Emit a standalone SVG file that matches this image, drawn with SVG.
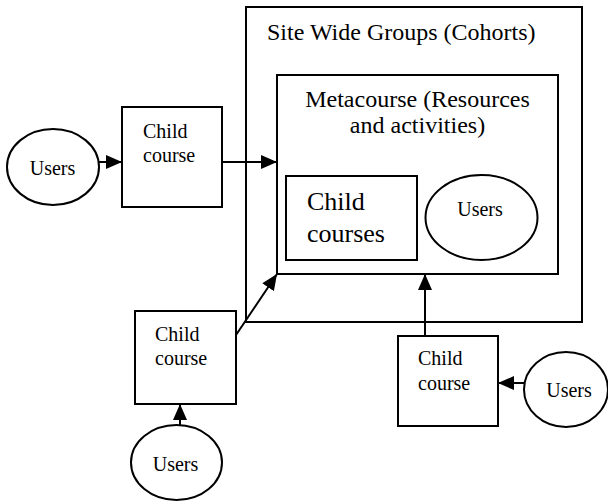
<svg xmlns="http://www.w3.org/2000/svg" width="608" height="501" viewBox="0 0 608 501">
  <style>
    .box { fill: #fff; stroke: #000; stroke-width: 2; }
    .frame { fill: none; stroke: #000; stroke-width: 2; }
    .edge { fill: none; stroke: #000; stroke-width: 2; marker-end: url(#arrow); }
    .t20 { font-size: 20px; }
    .t24 { font-size: 24px; }
    .t26 { font-size: 26px; }
  </style>
  <defs>
    <marker id="arrow" markerUnits="userSpaceOnUse" markerWidth="16" markerHeight="14" refX="16" refY="7" orient="auto">
      <path d="M0,0 L16,7 L0,14 Z" fill="#000"/>
    </marker>
  </defs>

  <g font-family="Times New Roman, Liberation Serif, Tinos, DejaVu Serif, Noto Serif, serif" fill="#000">
    <!-- containers -->
    <g id="site-wide-groups">
      <rect class="frame" x="246" y="7" width="336" height="315"/>
      <text class="t24" x="267" y="40">Site Wide Groups (Cohorts)</text>
    </g>
    <g id="metacourse">
      <rect class="frame" x="277" y="75" width="281" height="199"/>
      <text class="t24" x="417.5" y="107" text-anchor="middle">Metacourse (Resources</text>
      <text class="t24" x="417.5" y="133" text-anchor="middle">and activities)</text>
    </g>
    <g id="child-courses">
      <rect class="box" x="286" y="176" width="131" height="84"/>
      <text class="t26" x="307" y="210">Child</text>
      <text class="t26" x="307" y="242">courses</text>
    </g>
    <g id="meta-users">
      <ellipse class="box" cx="481.5" cy="217.5" rx="56" ry="42.5"/>
      <text class="t20" x="480" y="216" text-anchor="middle">Users</text>
    </g>

    <!-- left branch -->
    <g id="users-left">
      <ellipse class="box" cx="53" cy="167" rx="46" ry="38"/>
      <text class="t20" x="52.5" y="175" text-anchor="middle">Users</text>
    </g>
    <g id="child-course-left">
      <rect class="box" x="122" y="107" width="100" height="100"/>
      <text class="t20" x="143" y="138">Child</text>
      <text class="t20" x="143" y="162">course</text>
    </g>

    <!-- lower-left branch -->
    <g id="child-course-lower">
      <rect class="box" x="135" y="311" width="101" height="93"/>
      <text class="t20" x="155" y="341">Child</text>
      <text class="t20" x="155" y="365">course</text>
    </g>
    <g id="users-lower">
      <ellipse class="box" cx="176.5" cy="462.5" rx="45.5" ry="37.5"/>
      <text class="t20" x="175.5" y="471" text-anchor="middle">Users</text>
    </g>

    <!-- right branch -->
    <g id="child-course-right">
      <rect class="box" x="398" y="336" width="100" height="90"/>
      <text class="t20" x="418" y="365">Child</text>
      <text class="t20" x="418" y="390">course</text>
    </g>
    <g id="users-right">
      <ellipse class="box" cx="566" cy="389.5" rx="42" ry="37.5"/>
      <text class="t20" x="569" y="397" text-anchor="middle">Users</text>
    </g>
  </g>

  <!-- connectors -->
  <g id="connectors">
    <line class="edge" x1="99" y1="162" x2="122" y2="162"/>
    <line class="edge" x1="222" y1="162" x2="277" y2="162"/>
    <line class="edge" x1="236" y1="335" x2="277" y2="274"/>
    <line class="edge" x1="180" y1="425" x2="180" y2="404"/>
    <line class="edge" x1="425" y1="336" x2="425" y2="274"/>
    <line class="edge" x1="524" y1="383" x2="498" y2="383"/>
  </g>
</svg>
